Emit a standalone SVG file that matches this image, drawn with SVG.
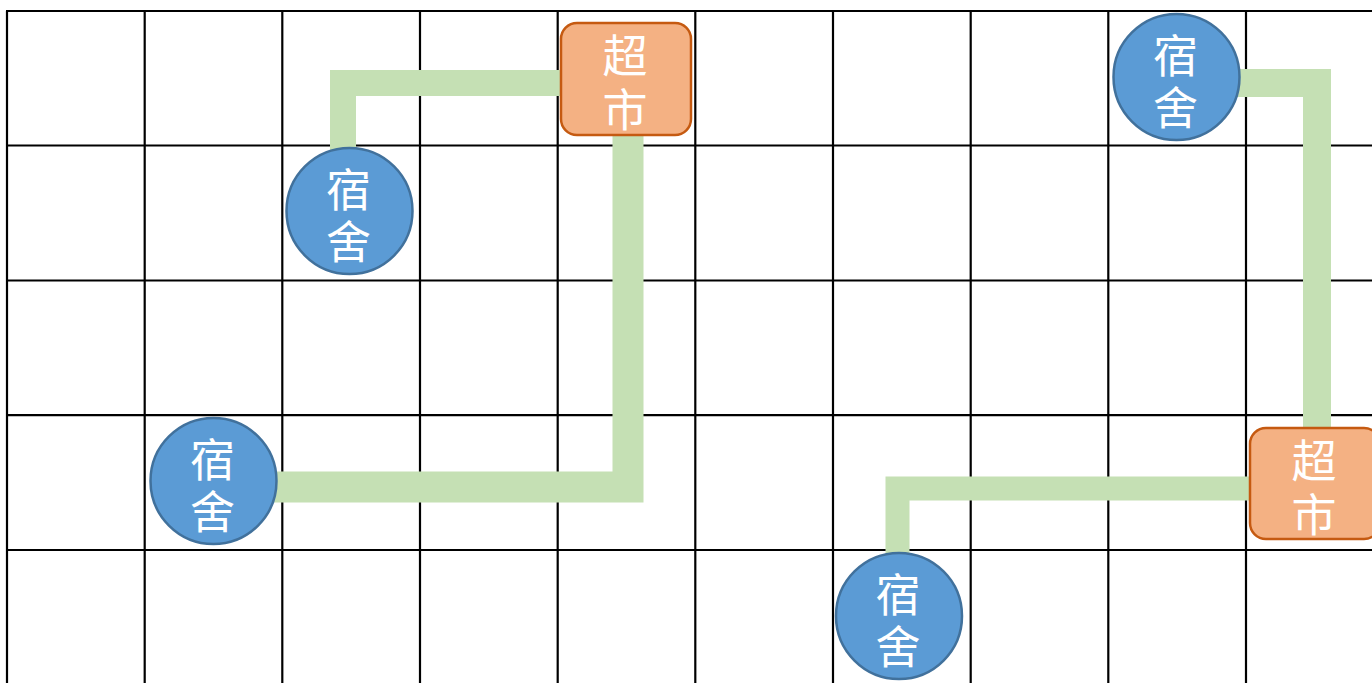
<svg xmlns="http://www.w3.org/2000/svg" width="1372" height="683" viewBox="0 0 1372 683">
  <style>
    .grid line { stroke: #000; stroke-width: 2.2; }
    .conn { fill: none; stroke: #C5E0B4; stroke-linejoin: miter; stroke-linecap: butt; }
    .dorm { fill: #5B9BD5; stroke: #41719C; stroke-width: 2.5; }
    .market { fill: #F4B183; stroke: #C55A11; stroke-width: 2.5; }
    .lbl { fill: #fff; font-family: "Noto Sans CJK SC", "Noto Sans CJK JP", sans-serif; font-size: 45px; text-anchor: middle; dominant-baseline: central; }
  </style>
  <rect width="1372" height="683" fill="#fff"/>
  <g class="grid">
    <line x1="7" y1="11" x2="7" y2="683"/>
    <line x1="144.7" y1="11" x2="144.7" y2="683"/>
    <line x1="282.3" y1="11" x2="282.3" y2="683"/>
    <line x1="420" y1="11" x2="420" y2="683"/>
    <line x1="557.7" y1="11" x2="557.7" y2="683"/>
    <line x1="695.3" y1="11" x2="695.3" y2="683"/>
    <line x1="833" y1="11" x2="833" y2="683"/>
    <line x1="970.7" y1="11" x2="970.7" y2="683"/>
    <line x1="1108.3" y1="11" x2="1108.3" y2="683"/>
    <line x1="1246" y1="11" x2="1246" y2="683"/>
    <line x1="6" y1="11" x2="1372" y2="11"/>
    <line x1="6" y1="145.5" x2="1372" y2="145.5"/>
    <line x1="6" y1="280.5" x2="1372" y2="280.5"/>
    <line x1="6" y1="415.2" x2="1372" y2="415.2"/>
    <line x1="6" y1="550" x2="1372" y2="550"/>
  </g>
  <g id="connectors">
    <path class="conn" stroke-width="26" d="M343,170 V83 H565"/>
    <path class="conn" stroke-width="31" d="M628,130 V487 H250"/>
    <path class="conn" stroke-width="28" d="M1230,83 H1317 V432"/>
    <path class="conn" stroke-width="24" d="M897.5,570 V488.5 H1255"/>
  </g>
  <g id="dorm1" transform="translate(349.5,211)">
    <circle class="dorm" r="63"/>
    <text class="lbl"><tspan x="-1" y="-24">宿</tspan><tspan x="-1" y="28">舍</tspan></text>
  </g>
  <g id="dorm2" transform="translate(213.5,481)">
    <circle class="dorm" r="63"/>
    <text class="lbl"><tspan x="-1" y="-24">宿</tspan><tspan x="-1" y="28">舍</tspan></text>
  </g>
  <g id="dorm3" transform="translate(899,616)">
    <circle class="dorm" r="63"/>
    <text class="lbl"><tspan x="-1" y="-24">宿</tspan><tspan x="-1" y="28">舍</tspan></text>
  </g>
  <g id="dorm4" transform="translate(1176.5,77)">
    <circle class="dorm" r="63"/>
    <text class="lbl"><tspan x="-1" y="-24">宿</tspan><tspan x="-1" y="28">舍</tspan></text>
  </g>
  <g id="market1" transform="translate(626,79)">
    <rect class="market" x="-65" y="-56" width="130" height="112" rx="16"/>
    <text class="lbl"><tspan x="-1" y="-26">超</tspan><tspan x="-1" y="28">市</tspan></text>
  </g>
  <g id="market2" transform="translate(1315,483.5)">
    <rect class="market" x="-65" y="-55.5" width="130" height="111" rx="16"/>
    <text class="lbl"><tspan x="-1" y="-26">超</tspan><tspan x="-1" y="28">市</tspan></text>
  </g>
</svg>
